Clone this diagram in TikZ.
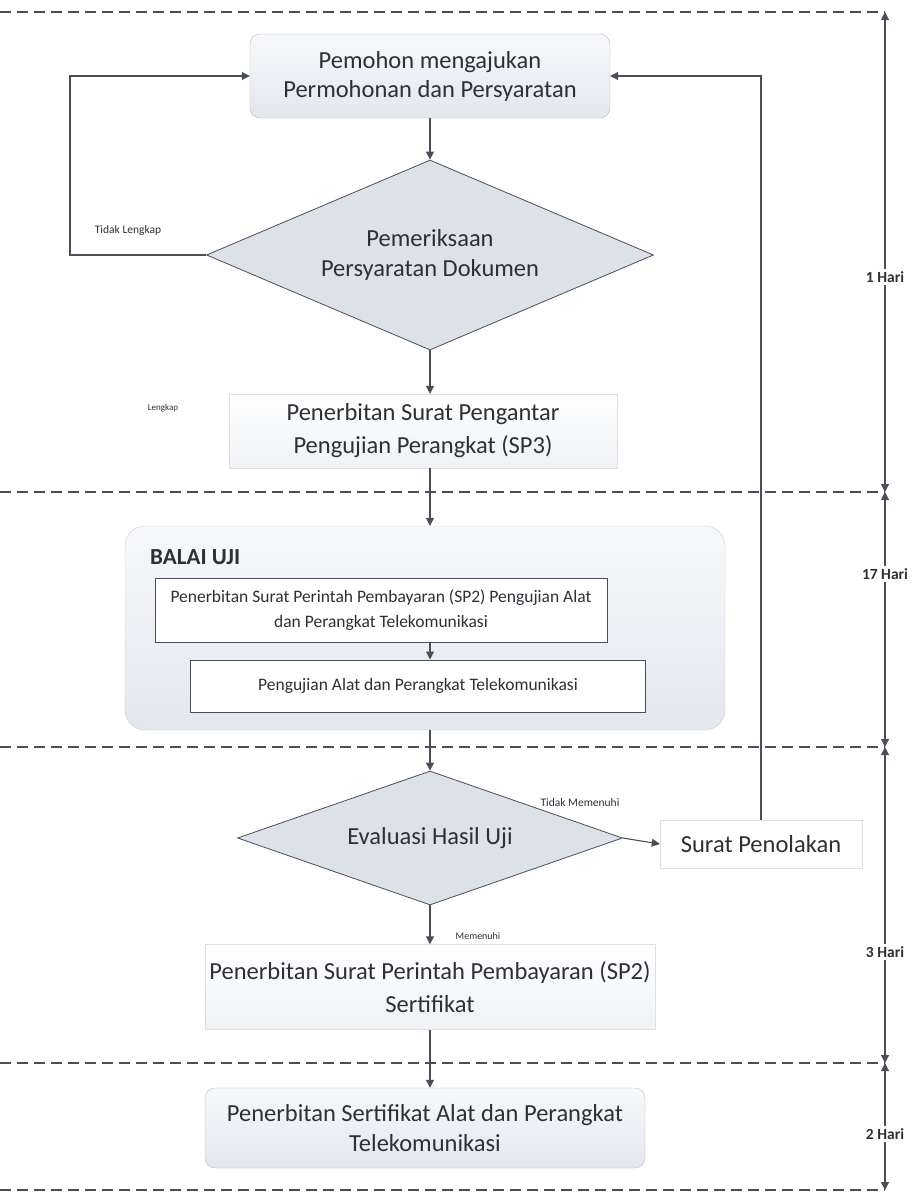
\documentclass[tikz,border=0pt]{standalone}
\usepackage{fontspec}
\setmainfont{Carlito}
\usetikzlibrary{shapes.geometric,arrows.meta}
\definecolor{lineC}{HTML}{4A4F57}
\definecolor{boxTop}{HTML}{F7F8FA}
\definecolor{boxBot}{HTML}{E3E7EE}
\definecolor{diaC}{HTML}{DDE1E9}
\definecolor{txtC}{HTML}{2E3036}
\tikzset{
  arr/.style={draw=lineC, line width=1.1pt, -{Triangle[length=8pt,width=8pt]}},
  dline/.style={draw=lineC, line width=1.2pt, dash pattern=on 11pt off 6pt},
  rbox/.style={draw=gray!55, rounded corners=10pt, top color=boxTop, bottom color=boxBot, align=center, font=\fontsize{24.5}{29}\selectfont, text=txtC, inner sep=0pt},
  fbox/.style={draw=gray!25, top color=white, bottom color=boxTop!60!boxBot, align=center, font=\fontsize{24.5}{33}\selectfont, text=txtC, inner sep=0pt},
  ibox/.style={draw=lineC, line width=1pt, fill=white, align=center, font=\fontsize{17.5}{25}\selectfont, text=txtC, inner sep=0pt},
  dia/.style={diamond, draw=lineC, line width=0.8pt, fill=diaC, align=center, font=\fontsize{24.5}{30}\selectfont, text=txtC, inner sep=0pt},
  small/.style={font=\fontsize{11.5}{13}\selectfont, text=txtC},
  hari/.style={font=\bfseries\fontsize{15.5}{17}\selectfont, text=txtC, inner sep=2pt},
}
\begin{document}
\begin{tikzpicture}[x=1pt,y=-1pt]
\useasboundingbox (0,0) rectangle (914,1200);
% dashed separators
\foreach \yy/\nm in {12/t0,492/t1,747/t2,1063/t3,1190/t4}{
  \coordinate (L\nm) at (0,\yy);
  \coordinate (\nm) at (885,\yy);
}
\draw[dline] (Lt0) -- (t0);
\draw[dline] (Lt1) -- (t1);
\draw[dline] (Lt2) -- (t2);
\draw[dline] (Lt3) -- (t3);
\draw[dline] (Lt4) -- (t4);

% nodes
\node[rbox, minimum width=360pt, minimum height=84pt] (b1) at (430,76) {Pemohon mengajukan\\Permohonan dan Persyaratan};
\node[dia, aspect=2.35, minimum width=447pt, minimum height=190pt] (d1) at (430,255) {Pemeriksaan\\Persyaratan Dokumen};
\node[fbox, minimum width=388pt, minimum height=74pt] (b3) at (423,431) {Penerbitan Surat Pengantar\\Pengujian Perangkat (SP3)};
\node[draw=gray!40, rounded corners=20pt, top color=boxTop, bottom color=boxBot, minimum width=600pt, minimum height=204pt] (bu) at (425,628) {};
\node[anchor=west, font=\bfseries\fontsize{23}{26}\selectfont, text=txtC, inner sep=0pt] (bulabel) at (150,557) {BALAI UJI};
\node[ibox, minimum width=452pt, minimum height=64pt] (i1) at (381,610) {Penerbitan Surat Perintah Pembayaran (SP2) Pengujian Alat\\dan Perangkat Telekomunikasi};
\node[ibox, minimum width=455pt, minimum height=52pt] (i2) at (418,686) {Pengujian Alat dan Perangkat Telekomunikasi};
\node[dia, aspect=2.9, minimum width=385pt, minimum height=134pt] (d2) at (430,838) {Evaluasi Hasil Uji};
\node[fbox, minimum width=202pt, minimum height=48pt, top color=white, bottom color=white] (sp) at (761,844) {Surat Penolakan};
\node[fbox, minimum width=450pt, minimum height=85pt] (b5) at (430,987) {Penerbitan Surat Perintah Pembayaran (SP2)\\Sertifikat};
\node[rbox, minimum width=440pt, minimum height=80pt, font=\fontsize{24.5}{30}\selectfont] (b6) at (425,1128) {Penerbitan Sertifikat Alat dan Perangkat\\Telekomunikasi};

% connector labels
\node[small] (lTL) at (128,230) {Tidak Lengkap};
\node[small, font=\fontsize{9}{10}\selectfont] (lL) at (163,408) {Lengkap};
\node[small] (lTM) at (580,803) {Tidak Memenuhi};
\node[small, font=\fontsize{10}{12}\selectfont] (lM) at (478,936) {Memenuhi};

% connectors
\coordinate (loopL) at (70,0);
\coordinate (axis) at (430,0);
\draw[arr] (b1.south -| axis) -- (d1.north);
\draw[arr] (d1.west) -- (d1.west -| loopL) |- (b1.west);
\draw[arr] (d1.south) -- (b3.north -| axis);
\draw[arr] (b3.south -| axis) -- (bu.north -| axis);
\draw[arr] (i1.south -| axis) -- (i2.north -| axis);
\draw[arr] (bu.south -| axis) -- (d2.north);
\draw[arr] (d2.east) -- (sp.west);
\draw[arr] (sp.north) |- (b1.east);
\draw[arr] (d2.south) -- (b5.north -| axis);
\draw[arr] (b5.south -| axis) -- (b6.north -| axis);

% timeline
\node[hari] (h1) at (885,277) {1 Hari};
\node[hari] (h2) at (885,574) {17 Hari};
\node[hari] (h3) at (885,952) {3 Hari};
\node[hari] (h4) at (885,1134) {2 Hari};
\draw[arr] (h1.north) -- (t0);
\draw[arr] (h1.south) -- (t1);
\draw[arr] (h2.north) -- (t1);
\draw[arr] (h2.south) -- (t2);
\draw[arr] (h3.north) -- (t2);
\draw[arr] (h3.south) -- (t3);
\draw[arr] (h4.north) -- (t3);
\draw[arr] (h4.south) -- (t4);
\end{tikzpicture}
\end{document}
